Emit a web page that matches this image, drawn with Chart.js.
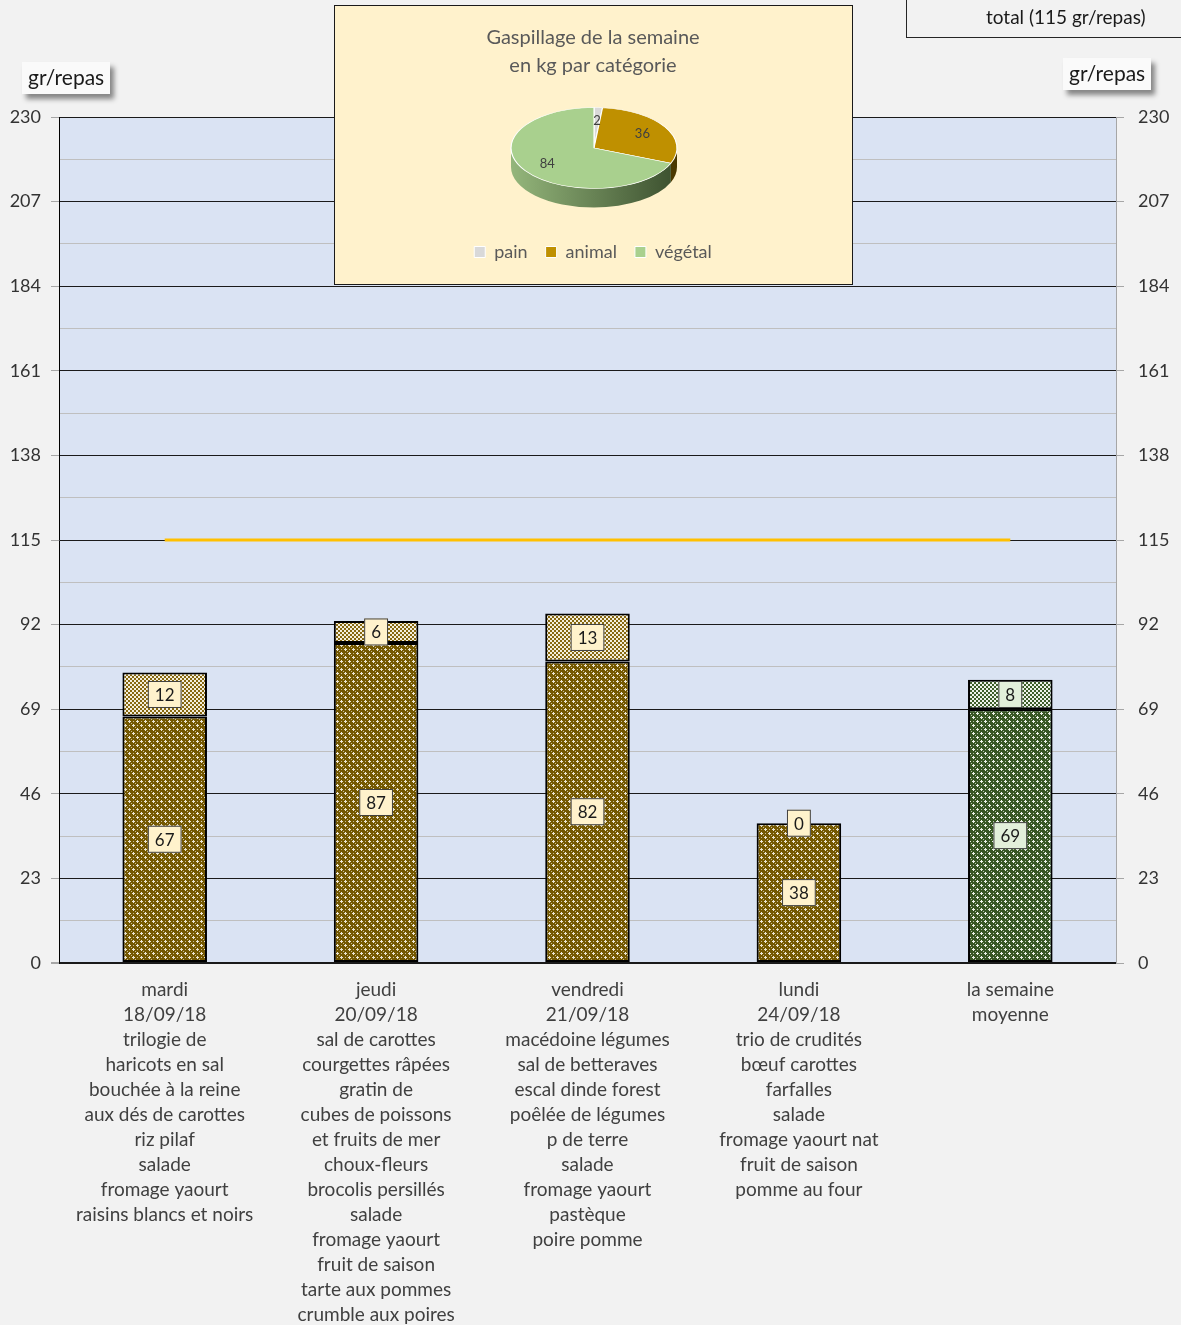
<!DOCTYPE html>
<html lang="fr">
<head>
<meta charset="utf-8">
<title>Gaspillage de la semaine</title>
<script src="https://cdn.jsdelivr.net/npm/chart.js@4.4.1/dist/chart.umd.min.js"></script>
<style>
  html, body { margin: 0; padding: 0; background: #F2F2F2; }
  body { width: 1181px; height: 1325px; position: relative; overflow: hidden;
         font-family: Lato, "Open Sans", sans-serif; }
  #main { position: absolute; left: 0; top: 0; width: 1181px; height: 1325px; }
  .unit { position: absolute; background: #FAFAFA; color: #1a1a1a; font-size: 21px;
          height: 32px; line-height: 30px; padding: 0 6px; box-shadow: 4px 5px 5px rgba(0,0,0,0.45); }
  #pieBox { position: absolute; left: 334px; top: 5px; width: 519px; height: 280px;
            box-sizing: border-box; border: 1.5px solid #1a1a1a; background: #FFF2CC; }
  #pieWrap { position: absolute; left: 0; top: 0; width: 516px; height: 277px; }
  #legendBox { position: absolute; left: 906px; top: -2px; width: 300px; height: 40px;
               box-sizing: border-box; border: 1px solid #262626; }
  #legendBox span { position: absolute; left: 79px; top: 6px; font-size: 19px; color: #1a1a1a; }
</style>
</head>
<body>
<div id="main"><canvas id="barChart"></canvas></div>
<div class="unit" style="left:22px; top:62px;">gr/repas</div>
<div class="unit" style="left:1063px; top:58px;">gr/repas</div>
<div id="legendBox"><span>total (115 gr/repas)</span></div>
<div id="pieBox"><div id="pieWrap"><canvas id="pieChart"></canvas></div></div>
<script>
// ---- data ----
var categories = [
  ['mardi', '18/09/18', 'trilogie de', 'haricots en sal', 'bouchée à la reine', 'aux dés de carottes',
   'riz pilaf', 'salade', 'fromage yaourt', 'raisins blancs et noirs'],
  ['jeudi', '20/09/18', 'sal de carottes', 'courgettes râpées', 'gratin de', 'cubes de poissons',
   'et fruits de mer', 'choux-fleurs', 'brocolis persillés', 'salade', 'fromage yaourt',
   'fruit de saison', 'tarte aux pommes', 'crumble aux poires'],
  ['vendredi', '21/09/18', 'macédoine légumes', 'sal de betteraves', 'escal dinde forest',
   'poêlée de légumes', 'p de terre', 'salade', 'fromage yaourt', 'pastèque', 'poire pomme'],
  ['lundi', '24/09/18', 'trio de crudités', 'bœuf carottes', 'farfalles', 'salade',
   'fromage yaourt nat', 'fruit de saison', 'pomme au four'],
  ['la semaine', 'moyenne']
];
var plateauValues = [67, 87, 82, 38, 69];
var painValues = [12, 6, 13, 0, 8];
var totalLine = [115, 115, 115, 115, 115];
var yTicks = [0, 23, 46, 69, 92, 115, 138, 161, 184, 207, 230];

var pieLabels = ['pain', 'animal', 'végétal'];
var pieValues = [2, 36, 84];
var pieColors = ['#D9D9D9', '#BF9000', '#A9D08E'];

Chart.defaults.font.family = 'Lato, "Open Sans", sans-serif';
Chart.defaults.animation = false;

// ---- fill patterns ----
function crossPattern(base, light) {
  var c = document.createElement('canvas');
  c.width = 8; c.height = 8;
  var g = c.getContext('2d');
  g.fillStyle = base; g.fillRect(0, 0, 8, 8);
  g.fillStyle = light;
  // small plus shapes
  g.fillRect(0, 1, 3, 1); g.fillRect(1, 0, 1, 3);
  g.fillRect(4, 5, 3, 1); g.fillRect(5, 4, 1, 3);
  g.globalAlpha = 0.7;
  g.fillRect(5, 1, 1, 1); g.fillRect(1, 5, 1, 1);
  g.fillRect(3, 3, 1, 1); g.fillRect(7, 7, 1, 1);
  return g.createPattern(c, 'repeat');
}
function checkerPattern(base, light) {
  var c = document.createElement('canvas');
  c.width = 4; c.height = 4;
  var g = c.getContext('2d');
  g.fillStyle = light; g.fillRect(0, 0, 4, 4);
  g.fillStyle = base;
  g.fillRect(0, 0, 2, 2); g.fillRect(2, 2, 2, 2);
  return g.createPattern(c, 'repeat');
}
var brownCross = crossPattern('#745800', '#EDE6D4');
var greenCross = crossPattern('#375623', '#EEF3EA');
var brownCheck = checkerPattern('#866810', '#F4EEDC');
var greenCheck = checkerPattern('#3E5E2A', '#EEF3EA');

function isMajor(v) {
  return yTicks.indexOf(Math.round(v * 10) / 10) !== -1;
}
function buildTicks(scale) {
  var t = [];
  for (var i = 0; i < yTicks.length; i++) {
    t.push({ value: yTicks[i] });
    if (i < yTicks.length - 1) t.push({ value: (yTicks[i] + yTicks[i + 1]) / 2 });
  }
  scale.ticks = t;
}

var plotBackground = {
  id: 'plotBackground',
  beforeDraw: function(chart) {
    var a = chart.chartArea, ctx = chart.ctx;
    ctx.save();
    ctx.fillStyle = '#DAE3F3';
    ctx.fillRect(a.left, a.top, a.right - a.left, a.bottom - a.top);
    ctx.restore();
  }
};

// boxed value labels on each bar segment
var boxLabels = {
  id: 'boxLabels',
  afterDatasetsDraw: function(chart) {
    var ctx = chart.ctx;
    ctx.save();
    ctx.font = '17px Lato, "Open Sans", sans-serif';
    ctx.textAlign = 'center';
    ctx.textBaseline = 'middle';
    [0, 1].forEach(function(di) {
      var meta = chart.getDatasetMeta(di);
      var values = chart.data.datasets[di].data;
      meta.data.forEach(function(el, i) {
        var txt = String(values[i]);
        var cy = (el.y + el.base) / 2;
        var w = ctx.measureText(txt).width + 14, h = 27;
        ctx.fillStyle = i === 4 ? '#E2EFDA' : '#FFF2CC';
        ctx.fillRect(el.x - w / 2, cy - h / 2, w, h);
        ctx.strokeStyle = '#404040';
        ctx.lineWidth = 1;
        ctx.strokeRect(el.x - w / 2 + 0.5, cy - h / 2 + 0.5, w - 1, h - 1);
        ctx.fillStyle = '#1a1a1a';
        ctx.fillText(txt, el.x, cy + 1);
      });
    });
    ctx.restore();
  }
};

new Chart(document.getElementById('barChart'), {
  type: 'bar',
  data: {
    labels: categories,
    datasets: [
      {
        label: 'plateau',
        data: plateauValues,
        stack: 'repas',
        backgroundColor: [brownCross, brownCross, brownCross, brownCross, greenCross],
        borderColor: '#000',
        borderWidth: 2,
        borderSkipped: false,
        categoryPercentage: 1,
        barPercentage: 0.4,
        order: 2
      },
      {
        label: 'pain',
        data: painValues,
        stack: 'repas',
        backgroundColor: [brownCheck, brownCheck, brownCheck, brownCheck, greenCheck],
        borderColor: '#000',
        borderWidth: 2,
        borderSkipped: false,
        categoryPercentage: 1,
        barPercentage: 0.4,
        order: 2
      },
      {
        type: 'line',
        label: 'total (115 gr/repas)',
        data: totalLine,
        stack: 'ligne',
        borderColor: '#FFC000',
        borderWidth: 3,
        pointRadius: 0,
        fill: false,
        order: 1
      }
    ]
  },
  options: {
    responsive: true,
    maintainAspectRatio: false,
    layout: { padding: { top: 117, left: 0, right: 0, bottom: 0 } },
    plugins: { legend: { display: false }, tooltip: { enabled: false } },
    scales: {
      x: {
        stacked: true,
        offset: true,
        grid: { display: false },
        border: { display: false },
        ticks: {
          autoSkip: false, maxRotation: 0, padding: 6,
          color: '#404040',
          font: { size: 19, lineHeight: 1.316 }
        },
        afterFit: function(s) { s.height = 362; s.paddingLeft = 0; s.paddingRight = 0; }
      },
      y: {
        position: 'left',
        stacked: true,
        min: 0, max: 230,
        afterBuildTicks: buildTicks,
        ticks: {
          padding: 10, color: '#333',
          font: { size: 18 },
          callback: function(v) { return isMajor(v) ? String(Math.round(v)) : ''; }
        },
        grid: {
          tickLength: 8,
          color: function(c) { return c.tick && isMajor(c.tick.value) ? '#1a1a1a' : '#BFBFBF'; },
          lineWidth: function(c) { return c.tick && c.tick.value === 0 ? 2 : 1; },
          tickColor: function(c) { return c.tick && isMajor(c.tick.value) ? '#A6A6A6' : 'rgba(0,0,0,0)'; }
        },
        border: { color: '#000', width: 1 },
        afterFit: function(s) { s.width = 59; s.paddingTop = 0; s.paddingBottom = 0; }
      },
      y1: {
        position: 'right',
        min: 0, max: 230,
        afterBuildTicks: buildTicks,
        ticks: {
          padding: 14, color: '#333',
          font: { size: 18 },
          callback: function(v) { return isMajor(v) ? String(Math.round(v)) : ''; }
        },
        grid: {
          drawOnChartArea: false,
          tickLength: 8,
          tickColor: function(c) { return c.tick && isMajor(c.tick.value) ? '#A6A6A6' : 'rgba(0,0,0,0)'; }
        },
        border: { color: '#A6A6A6', width: 1 },
        afterFit: function(s) { s.width = 65; s.paddingTop = 0; s.paddingBottom = 0; }
      }
    }
  },
  plugins: [plotBackground, boxLabels]
});

// ---- pie, drawn flattened with a side wall ----
var pieShape = { cx: 259, cy: 142, rx: 83, ry: 40.5, depth: 19 };
var sideColors = [
  ['#9A9A9A', '#6E6E6E'],
  ['#6B5000', '#4A3800'],
  ['#94B67B', '#3B4F2E']
];

var flatPie = {
  id: 'flatPie',
  beforeDatasetsDraw: function(chart) {
    var ctx = chart.ctx, s = pieShape;
    var arcs = chart.getDatasetMeta(0).data;
    ctx.save();
    // side wall for the front half
    arcs.forEach(function(arc, i) {
      [[0, Math.PI], [2 * Math.PI, 3 * Math.PI]].forEach(function(rng) {
        var a = Math.max(arc.startAngle, rng[0]), b = Math.min(arc.endAngle, rng[1]);
        if (b <= a) return;
        var grad = ctx.createLinearGradient(s.cx - s.rx, 0, s.cx + s.rx, 0);
        grad.addColorStop(0, sideColors[i][0]);
        grad.addColorStop(1, sideColors[i][1]);
        ctx.beginPath();
        ctx.ellipse(s.cx, s.cy, s.rx, s.ry, 0, a, b, false);
        ctx.lineTo(s.cx + s.rx * Math.cos(b), s.cy + s.ry * Math.sin(b) + s.depth);
        ctx.ellipse(s.cx, s.cy + s.depth, s.rx, s.ry, 0, b, a, true);
        ctx.closePath();
        ctx.fillStyle = grad;
        ctx.fill();
      });
    });
    var r = arcs[0].outerRadius;
    ctx.translate(s.cx, s.cy);
    ctx.scale(s.rx / r, s.ry / r);
    ctx.translate(-arcs[0].x, -arcs[0].y);
  },
  afterDatasetsDraw: function(chart) {
    var ctx = chart.ctx, s = pieShape;
    ctx.restore();
    var arcs = chart.getDatasetMeta(0).data;
    ctx.save();
    ctx.font = '13px Lato, "Open Sans", sans-serif';
    ctx.fillStyle = '#404040';
    ctx.textAlign = 'center';
    ctx.textBaseline = 'middle';
    arcs.forEach(function(arc, i) {
      var m = (arc.startAngle + arc.endAngle) / 2;
      ctx.fillText(String(pieValues[i]), s.cx + 0.68 * s.rx * Math.cos(m), s.cy + 0.68 * s.ry * Math.sin(m));
    });
    ctx.restore();
  }
};

new Chart(document.getElementById('pieChart'), {
  type: 'pie',
  data: {
    labels: pieLabels,
    datasets: [{
      data: pieValues,
      backgroundColor: pieColors,
      borderColor: '#FFFFFF',
      borderWidth: 1,
      clip: false
    }]
  },
  options: {
    responsive: true,
    maintainAspectRatio: false,
    layout: { padding: { bottom: 12 } },
    plugins: {
      tooltip: { enabled: false },
      title: {
        display: true,
        text: ['Gaspillage de la semaine', 'en kg par catégorie'],
        color: '#595959',
        font: { size: 20, weight: 'normal', lineHeight: 1.4 },
        padding: { top: 18, bottom: 0 }
      },
      legend: {
        position: 'bottom',
        labels: {
          color: '#595959',
          font: { size: 18 },
          boxWidth: 11, boxHeight: 11,
          padding: 18
        }
      }
    }
  },
  plugins: [flatPie]
});
</script>
</body>
</html>
